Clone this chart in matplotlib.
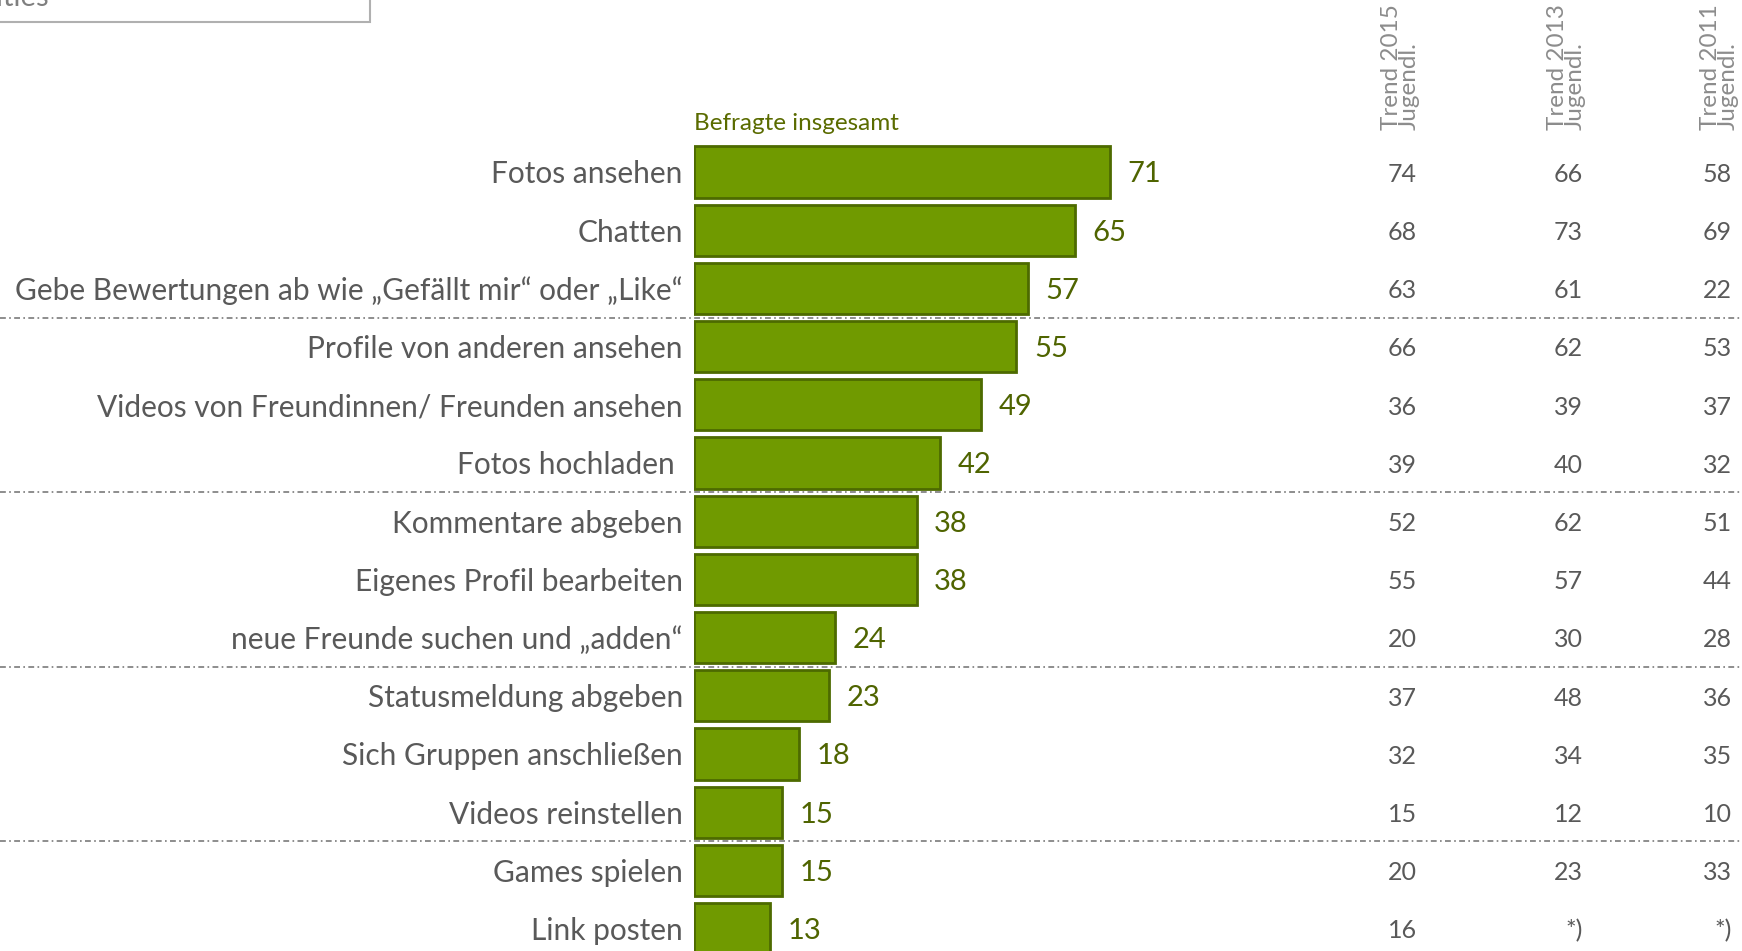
import matplotlib
matplotlib.use('Agg')
import matplotlib.pyplot as plt
import matplotlib.patches as mpatches
from matplotlib.transforms import blended_transform_factory

plt.rcParams['font.family'] = ['Lato', 'DejaVu Sans']

# Daten
labels = ['Fotos ansehen', 'Chatten',
          'Gebe Bewertungen ab wie „Gefällt mir“ oder „Like“',
          'Profile von anderen ansehen', 'Videos von Freundinnen/ Freunden ansehen',
          'Fotos hochladen ', 'Kommentare abgeben', 'Eigenes Profil bearbeiten',
          'neue Freunde suchen und „adden“', 'Statusmeldung abgeben',
          'Sich Gruppen anschließen', 'Videos reinstellen', 'Games spielen', 'Link posten']
gesamt = [71, 65, 57, 55, 49, 42, 38, 38, 24, 23, 18, 15, 15, 13]
trend_2015 = ['74', '68', '63', '66', '36', '39', '52', '55', '20', '37', '32', '15', '20', '16']
trend_2013 = ['66', '73', '61', '62', '39', '40', '62', '57', '30', '48', '34', '12', '23', '*)']
trend_2011 = ['58', '69', '22', '53', '37', '32', '51', '44', '28', '36', '35', '10', '33', '*)']
trend_headers = ['Trend 2015\nJugendl.', 'Trend 2013\nJugendl.', 'Trend 2011\nJugendl.']
separators = [2.5, 5.5, 8.5, 11.5]

W, H = 1742, 951
fig = plt.figure(figsize=(W / 100, H / 100), dpi=100)

x0 = 694          # Beginn der Balken (px)
px_per_unit = 5.86
row0, row_h = 172, 58.2
dy = 0.04         # Text leicht nach unten

ax = fig.add_axes([x0 / W, 0, 1 - x0 / W, 1])
ax.set_xlim(0, (W - x0) / px_per_unit)
ax.set_ylim((H - row0) / row_h, -row0 / row_h)
ax.axis('off')

bar_col = '#709a00'
edge_col = '#4d6a00'
val_col = '#4f6400'
grey = '#595959'

y = list(range(len(labels)))
ax.barh(y, gesamt, height=0.88, color=bar_col, edgecolor=edge_col, linewidth=2)

for yi, v in zip(y, gesamt):
    ax.text(v + 3.0, yi + dy, str(v), color=val_col, fontsize=21,
            ha='left', va='center')

for yi, lab in zip(y, labels):
    ax.text(-1.9, yi + dy, lab, color=grey, fontsize=21.5, ha='right', va='center')

# Trend-Spalten
ftrans = blended_transform_factory(fig.transFigure, ax.transData)
col_right = [1417, 1583, 1732]
for xr, col in zip(col_right, [trend_2015, trend_2013, trend_2011]):
    for yi, t in zip(y, col):
        ax.text(xr / W, yi + dy, t, transform=ftrans, color=grey, fontsize=18,
                ha='right', va='center')

head_x = [1400, 1566, 1719]
for hx, ht in zip(head_x, trend_headers):
    fig.text(hx / W, 1 - 130 / H, ht, rotation=90, color='#8c8c8c',
             fontsize=17.5, ha='center', va='bottom', multialignment='left',
             linespacing=0.8)

ax.text(0, -0.84, 'Befragte insgesamt', color='#5a6b00', fontsize=17.5,
        ha='left', va='center')

# Trennlinien
for s in separators:
    ax.plot([0, 1], [s, s], transform=ftrans, color='#7a7a7a', lw=1.2,
            ls=(0, (3.5, 2, 1, 2)), clip_on=False)

# Kasten oben links (abgeschnitten)
box = mpatches.Rectangle((-10 / W, 1 - 22 / H), 380 / W, 40 / H,
                         transform=fig.transFigure, fill=False,
                         edgecolor='#b0b0b0', lw=1.5)
fig.patches.append(box)
fig.text(-4 / W, 1 - 6 / H, 'ities –', color='#7f7f7f', fontsize=21,
         ha='left', va='baseline')

fig.savefig('out.png', dpi=100)
